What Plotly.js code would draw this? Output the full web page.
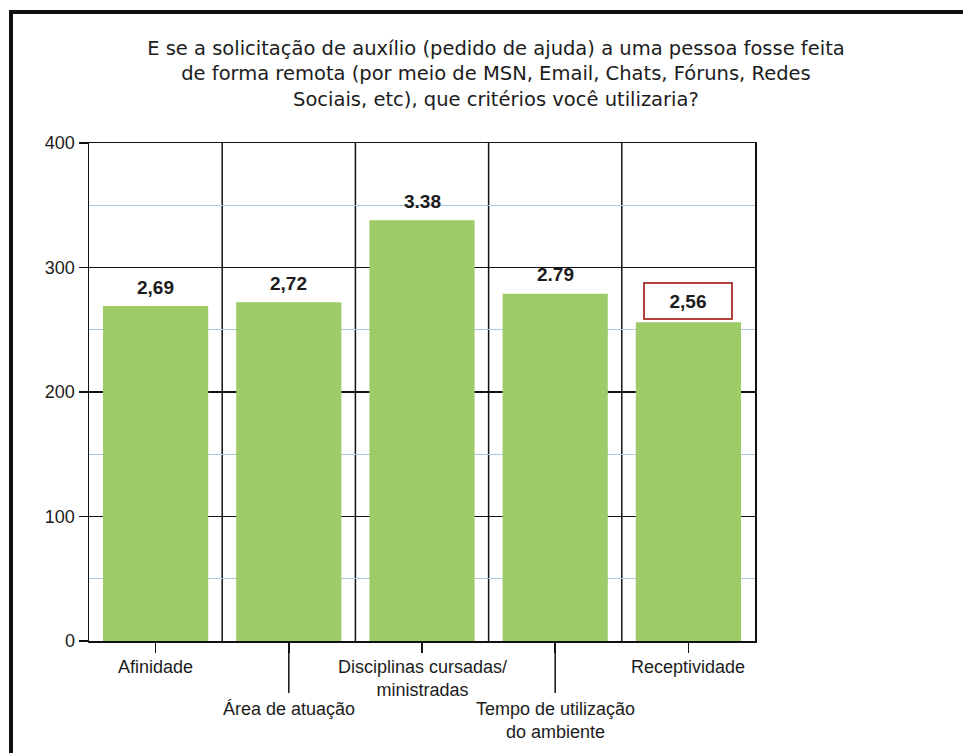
<!DOCTYPE html>
<html>
<head>
<meta charset="utf-8">
<script src="https://cdn.plot.ly/plotly-3.0.1.min.js"></script>
<style>
  html, body { margin: 0; padding: 0; background: #ffffff; }
  #wrap { position: relative; width: 963px; height: 753px; }
  #chart { position: absolute; left: 0; top: 0; width: 963px; height: 753px; }
  #frame {
    position: absolute; left: 9px; top: 10px; right: -10px; bottom: -10px;
    border-left: 4px solid #111; border-top: 4px solid #111;
    pointer-events: none;
  }
</style>
</head>
<body>
<div id="wrap">
  <div id="chart"></div>
  <div id="frame"></div>
</div>
<script>
// Criteria used when asking for help remotely (mean scores)
const categories = [
  "Afinidade",
  "Área de atuação",
  "Disciplinas cursadas/ ministradas",
  "Tempo de utilização do ambiente",
  "Receptividade"
];
const tickLabels = [
  "Afinidade",
  "Área de atuação",
  "Disciplinas cursadas/<br>ministradas",
  "Tempo de utilização<br>do ambiente",
  "Receptividade"
];
const scores = [2.69, 2.72, 3.38, 2.79, 2.56];
const scoreLabels = ["2,69", "2,72", "3.38", "2.79", "2,56"];
const yTickVals = [0, 1, 2, 3, 4];
const yTickText = ["0", "100", "200", "300", "400"];
// labels hanging on a second, lower row with a long tick
const lowerRow = [false, true, false, true, false];
const boxed = [false, false, false, false, true];

const FONT = "Liberation Sans, Arial, sans-serif";
const TITLE_FONT = "DejaVu Sans, Liberation Sans, sans-serif";
const INK = "#1c1c1c";

const trace = {
  type: "bar",
  x: categories,
  y: scores,
  marker: { color: "#9ecb68", line: { width: 0 } },
  hoverinfo: "skip"
};

const annotations = [];
const shapes = [];

categories.forEach((c, i) => {
  // value label above each bar
  const a = {
    x: c, y: scores[i], xref: "x", yref: "y",
    text: "<b>" + scoreLabels[i] + "</b>",
    showarrow: false, yanchor: "middle", xanchor: "center",
    yshift: 19,
    font: { family: FONT, size: 19, color: INK }
  };
  if (boxed[i]) {
    a.bordercolor = "#b0403c";
    a.borderwidth = 2;
    a.borderpad = 7;
    a.width = 72;
    a.height = 20;
    a.yshift = 21;
  }
  annotations.push(a);

  // category label under the axis
  annotations.push({
    x: c, y: 0, xref: "x", yref: "paper",
    text: tickLabels[i],
    showarrow: false, yanchor: "top", xanchor: "center",
    yshift: lowerRow[i] ? -56 : -14,
    font: { family: FONT, size: 18, color: INK }
  });

  if (lowerRow[i]) {
    shapes.push({
      type: "line", xref: "x", yref: "paper",
      x0: c, x1: c, ysizemode: "pixel", yanchor: 0, y0: 0, y1: -52,
      line: { color: "#111", width: 1.5 }
    });
  }
});

// category boundaries
for (let i = 0; i < categories.length - 1; i++) {
  shapes.push({
    type: "line", xref: "x", yref: "paper",
    x0: i + 0.5, x1: i + 0.5, y0: 0, y1: 1,
    layer: "below",
    line: { color: "#111", width: 1.5 }
  });
}

const layout = {
  width: 963, height: 753,
  margin: { l: 89, r: 208, t: 143, b: 112 },
  paper_bgcolor: "#ffffff",
  plot_bgcolor: "#ffffff",
  showlegend: false,
  bargap: 0.21,
  title: {
    text: "E se a solicitação de auxílio (pedido de ajuda) a uma pessoa fosse feita<br>" +
          "de forma remota (por meio de MSN, Email, Chats, Fóruns, Redes<br>" +
          "Sociais, etc), que critérios você utilizaria?",
    font: { family: TITLE_FONT, size: 19.5, color: INK },
    xref: "container", x: 0.515, xanchor: "center",
    yref: "container", y: 1 - 55 / 753, yanchor: "middle"
  },
  xaxis: {
    type: "category",
    showticklabels: false,
    ticks: "outside", ticklen: 10, tickwidth: 1.5, tickcolor: "#111",
    showgrid: false,
    showline: true, linecolor: "#111", linewidth: 1.5, mirror: true,
    fixedrange: true
  },
  yaxis: {
    range: [0, 4],
    tickmode: "array", tickvals: yTickVals, ticktext: yTickText,
    ticks: "outside", ticklen: 9, tickwidth: 1.5, tickcolor: "#111",
    tickfont: { family: FONT, size: 18, color: INK },
    showgrid: true, gridcolor: "#111", gridwidth: 1.5,
    zeroline: false,
    showline: true, linecolor: "#111", linewidth: 1.5, mirror: true,
    minor: {
      tickmode: "linear", tick0: 0, dtick: 0.5,
      showgrid: true, gridcolor: "#a9c8de", gridwidth: 1, ticks: ""
    },
    fixedrange: true
  },
  annotations: annotations,
  shapes: shapes
};

Plotly.newPlot("chart", [trace], layout, { displayModeBar: false, staticPlot: true });
</script>
</body>
</html>
